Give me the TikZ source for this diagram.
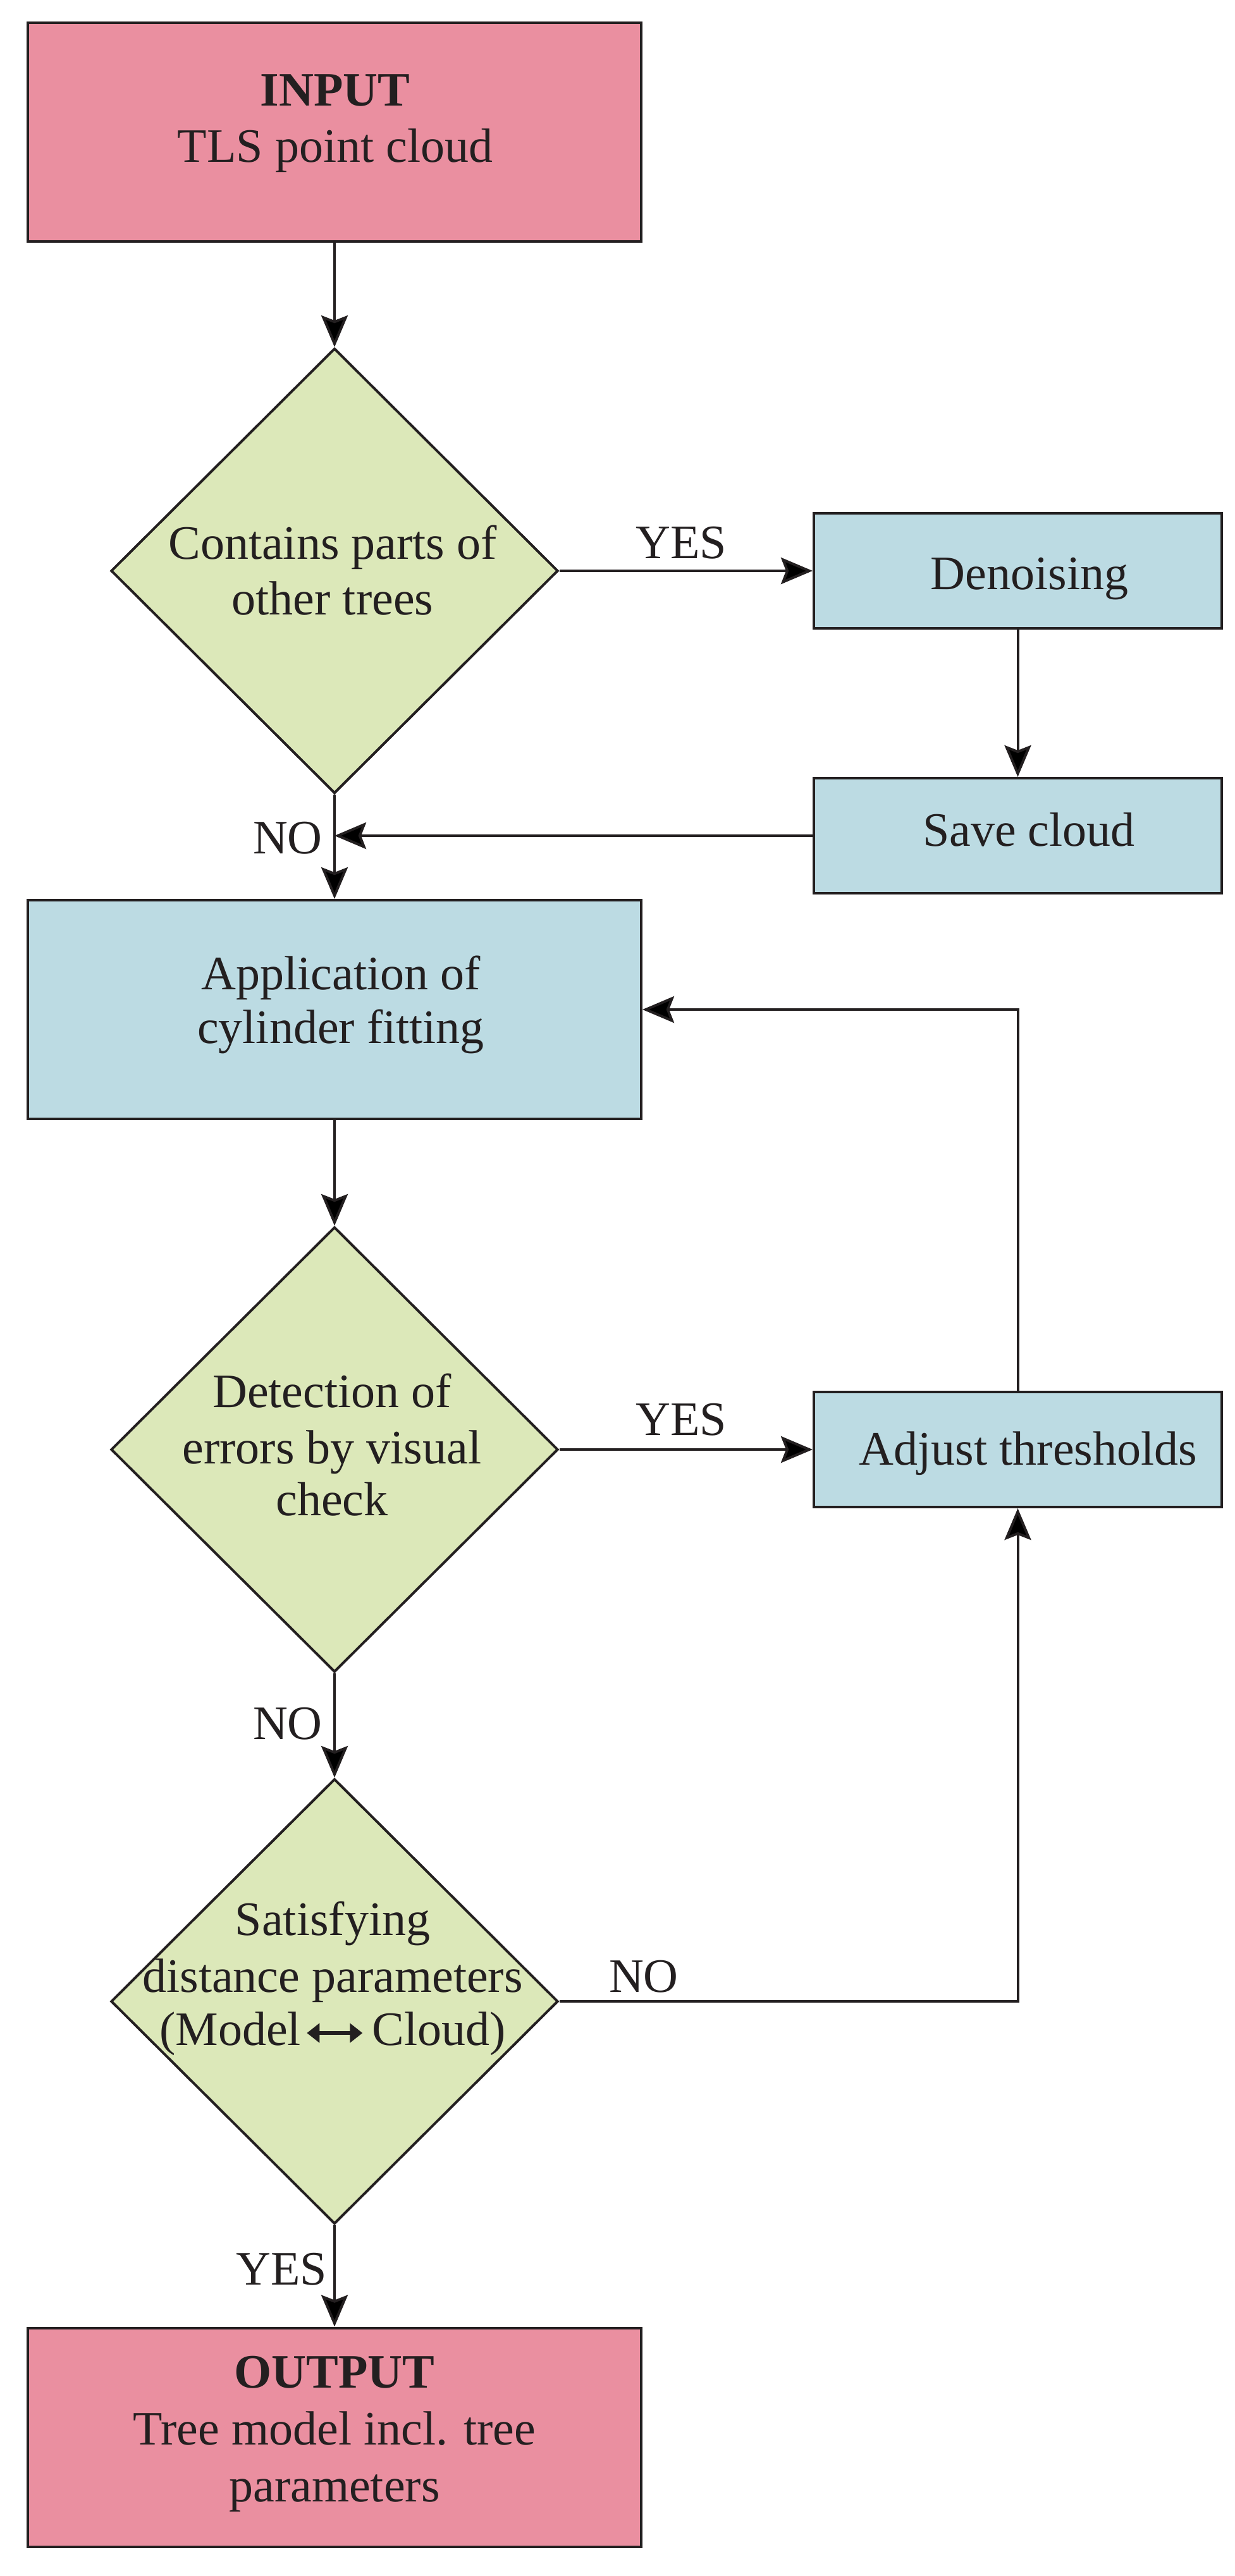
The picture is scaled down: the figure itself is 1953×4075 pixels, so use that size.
\documentclass[tikz,border=0pt]{standalone}
\usepackage{fontspec}
\setmainfont{Liberation Serif}
\usetikzlibrary{arrows.meta,shapes.geometric}
\definecolor{inkc}{HTML}{231F20}
\definecolor{pinkc}{HTML}{EA8FA0}
\definecolor{greenc}{HTML}{DCE8B9}
\definecolor{bluec}{HTML}{BCDBE3}
\tikzset{
  basic/.style={draw=inkc, line width=2pt, inner sep=0pt},
  bigbox/.style={basic, rectangle, minimum width=485pt, minimum height=173pt},
  smallbox/.style={basic, rectangle, minimum width=322.5pt, minimum height=91pt, fill=bluec},
  decision/.style={basic, diamond, minimum width=353.5pt, minimum height=352pt, fill=greenc},
  txt/.style={anchor=base, inner sep=0pt, outer sep=0pt, text=inkc, font=\fontsize{38pt}{44pt}\selectfont},
  arr/.style={draw=inkc, line width=2pt, -{Stealth[length=25pt,width=21pt,inset=4pt]}}
}
\newcommand{\dblarrow}{\tikz[baseline=0pt]\draw[draw=inkc, line width=3.2pt, {Triangle[length=10pt,width=15pt]}-{Triangle[length=10pt,width=15pt]}] (0pt,0.25em) -- (44pt,0.25em);}
\begin{document}
\begin{tikzpicture}[x=0.5pt, y=-0.5pt]
\useasboundingbox (0,0) rectangle (1953,4075);
% boxes
\node[bigbox, fill=pinkc] (in) at (529,209) {};
\node[decision] (d1) at (529,903) {};
\node[smallbox] (den) at (1609.5,903) {};
\node[smallbox] (save) at (1609.5,1322) {};
\node[bigbox, fill=bluec] (app) at (529,1597) {};
\node[decision] (d2) at (529,2293) {};
\node[smallbox] (adj) at (1609.5,2293) {};
\node[decision] (d3) at (529,3166) {};
\node[bigbox, fill=pinkc] (out) at (529,3855.5) {};
% texts
\node[txt] (inA) at (530,167) {\textbf{INPUT}};
\node[txt] (inB) at (530,256) {TLS point cloud};
\node[txt] (d1A) at (526,884) {Contains parts of};
\node[txt] (d1B) at (526,972) {other trees};
\node[txt] (denT) at (1628,932) {Denoising};
\node[txt] (saveT) at (1627,1338) {Save cloud};
\node[txt] (appA) at (539,1565) {Application of};
\node[txt] (appB) at (539,1650) {cylinder fitting};
\node[txt] (d2A) at (525,2226) {Detection of};
\node[txt] (d2B) at (525,2315) {errors by visual};
\node[txt] (d2C) at (525,2397) {check};
\node[txt] (adjT) at (1626,2317) {Adjust thresholds};
\node[txt] (d3A) at (526,3061) {Satisfying};
\node[txt] (d3B) at (526,3151) {distance parameters};
\node[txt] (d3C) at (526,3235) {(Model\hspace{3pt}\dblarrow\hspace{6pt}Cloud)};
\node[txt] (outA) at (529,3777) {\textbf{OUTPUT}};
\node[txt] (outB) at (529,3867) {Tree model incl. tree};
\node[txt] (outC) at (529,3957) {parameters};
% edge labels
\node[txt] (yes1) at (1077,883) {YES};
\node[txt] (no1) at (455,1350) {NO};
\node[txt] (yes2) at (1077,2270) {YES};
\node[txt] (no2) at (455,2751) {NO};
\node[txt] (no3) at (1018,3151) {NO};
\node[txt] (yes3) at (445,3614) {YES};
% connectors
\draw[arr] (in.south) -- (d1.north);
\draw[arr] (d1.east) -- (den.west);
\draw[arr] (den.south) -- (save.north);
\draw[arr] (save.west) -- (d1.south |- save.west);
\draw[arr] (d1.south) -- (app.north);
\draw[arr] (app.south) -- (d2.north);
\draw[arr] (d2.east) -- (adj.west);
\draw[arr] (adj.north) |- (app.east);
\draw[arr] (d2.south) -- (d3.north);
\draw[arr] (d3.east) -| (adj.south);
\draw[arr] (d3.south) -- (out.north);
\end{tikzpicture}
\end{document}
